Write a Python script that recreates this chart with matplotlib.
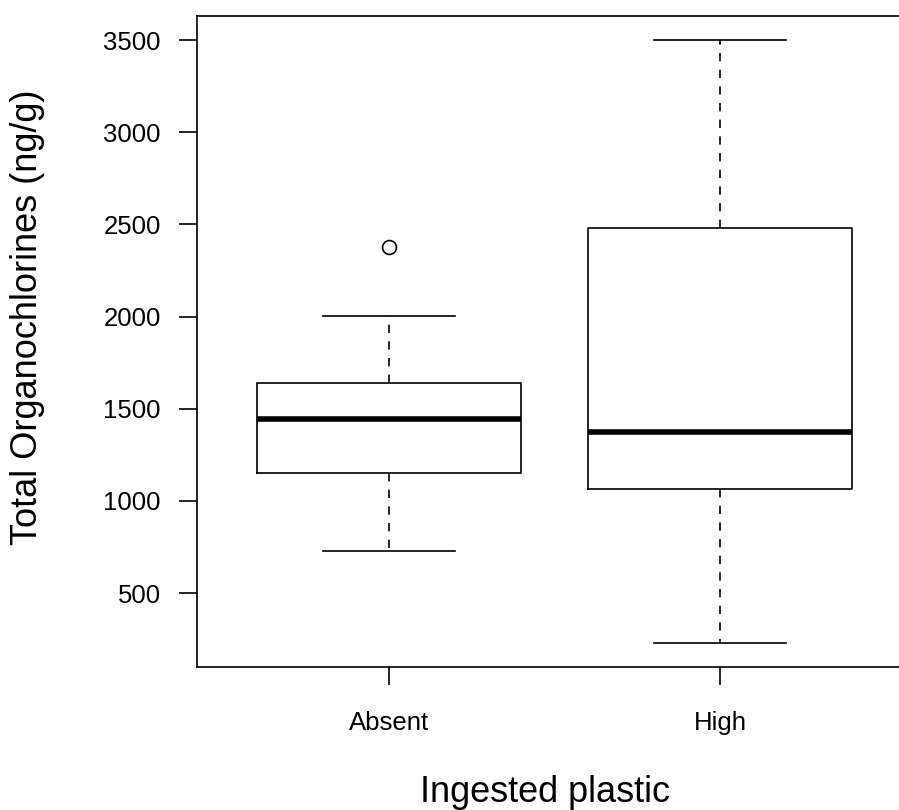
import matplotlib
matplotlib.use("Agg")
import matplotlib.pyplot as plt

plt.rcParams["font.family"] = ["Liberation Sans", "DejaVu Sans"]

# values
categories = ["Absent", "High"]
q1 = [1154, 1065]
medians = [1442, 1373]
q3 = [1638, 2480]
whisker_low = [730, 230]
whisker_high = [2004, 3500]
outliers = [[2377], []]
y_ticks = [500, 1000, 1500, 2000, 2500, 3000, 3500]

stats = []
for i, name in enumerate(categories):
    stats.append({
        "label": name,
        "q1": q1[i],
        "med": medians[i],
        "q3": q3[i],
        "whislo": whisker_low[i],
        "whishi": whisker_high[i],
        "fliers": outliers[i],
    })

fig = plt.figure(figsize=(8.99, 8.10), dpi=100)
ax = fig.add_axes([197 / 899, 1 - 667 / 810, 715 / 899, 651 / 810])

lw = 1.2
ax.bxp(
    stats,
    positions=[1, 2],
    widths=0.8,
    capwidths=0.4,
    boxprops=dict(color="black", linewidth=lw),
    whiskerprops=dict(color="black", linewidth=lw, linestyle=(0, (5, 5))),
    capprops=dict(color="black", linewidth=lw),
    medianprops=dict(color="black", linewidth=4),
    flierprops=dict(marker="o", markerfacecolor="none", markeredgecolor="black",
                    markersize=10, markeredgewidth=lw),
)

lo, hi = min(whisker_low), max(whisker_high)
r = hi - lo
ax.set_ylim(lo - 0.04 * r, hi + 0.04 * r)
ax.set_xlim(0.42, 2.58)

ax.set_yticks(y_ticks)
ax.set_xticks([1, 2])
ax.set_xticklabels(categories)
ax.tick_params(axis="both", length=13, width=lw, labelsize=18.5, color="black")
ax.tick_params(axis="y", pad=13)
ax.tick_params(axis="x", pad=19)

for sp in ax.spines.values():
    sp.set_linewidth(lw)

fig.text(28 / 899, 1 - 317 / 810, "Total Organochlorines (ng/g)", rotation=90,
         ha="center", va="center", fontsize=26)
fig.text(545 / 899, 1 - 802 / 810, "Ingested plastic", ha="center",
         va="baseline", fontsize=26)

fig.savefig("out.png", dpi=100)
